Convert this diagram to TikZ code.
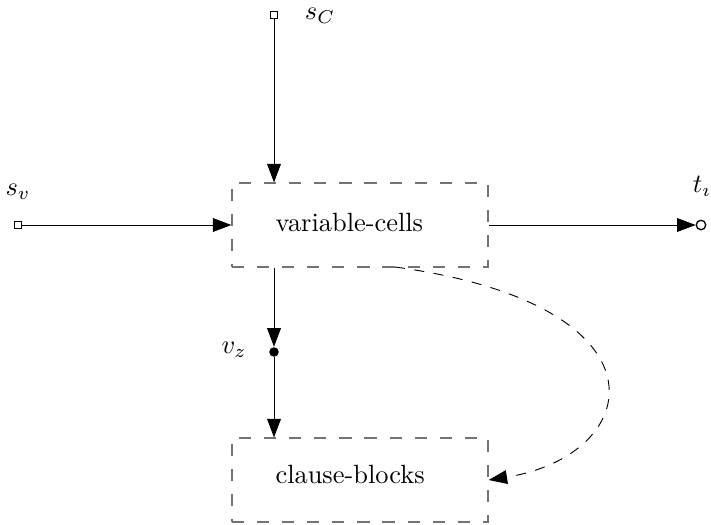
\documentclass[tikz,border=0pt]{standalone}
\usetikzlibrary{arrows.meta}
\begin{document}
\begin{tikzpicture}[x=0.3788pt,y=-0.3788pt,
  cellbox/.style={draw=black!55,dash pattern=on 4.6pt off 4.9pt,minimum width=97pt,minimum height=31.8pt,inner sep=0pt,line width=0.45pt},
  port/.style={draw,fill=white,rectangle,minimum size=2.9pt,inner sep=0pt,line width=0.4pt},
  opencirc/.style={draw,fill=white,circle,minimum size=3.6pt,inner sep=0pt,line width=0.5pt},
  dotnode/.style={fill=black,circle,minimum size=3.6pt,inner sep=0pt},
  conn/.style={line width=0.35pt,-{Triangle[length=7pt,width=5.2pt]}},
  lbl/.style={inner sep=0pt}]
\useasboundingbox (0,0) rectangle (711,524);
\node[cellbox] (vc) at (360,225) {};
\node[cellbox] (cb) at (360,480) {};
\node[lbl,anchor=west] (vct) at (275,222) {variable-cells};
\node[lbl,anchor=west] (cbt) at (275,474) {clause-blocks};
\node[port] (sC) at (274,15) {};
\node[lbl] (sCl) at (320,16) {$s_C$};
\node[port] (sv) at (18,225) {};
\node[lbl] (svl) at (18,192) {$s_v$};
\node[opencirc] (t) at (701,225) {};
\node[lbl] (tl) at (702,186) {$t_\imath$};
\node[dotnode] (vz) at (274,352) {};
\node[lbl] (vzl) at (234,350) {$v_z$};
\coordinate (cs) at (395,267);
\draw[conn] (sC) -- (sC |- vc.north);
\draw[conn] (sv) -- (vc.west);
\draw[conn] (vc.east) -- (t);
\draw[conn] (sC |- vc.south) -- (vz);
\draw[conn] (vz) -- (vz |- cb.north);
\draw[conn,dash pattern=on 3.8pt off 3.6pt] (cs) .. controls (675,305) and (645,455) .. (cb.east);
\end{tikzpicture}
\end{document}
